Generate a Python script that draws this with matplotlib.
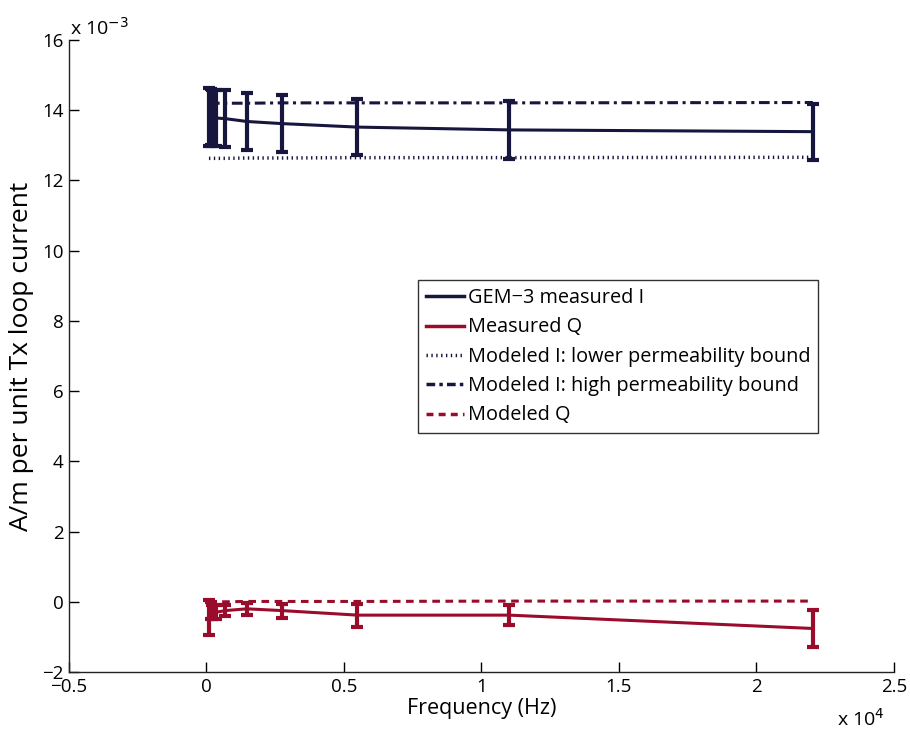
import numpy as np
import matplotlib.pyplot as plt
from matplotlib.lines import Line2D

plt.rcParams['font.family'] = ['Open Sans', 'DejaVu Sans']

# frequencies (Hz)
freq = [90, 150, 210, 330, 690, 1470, 2730, 5490, 11010, 22050]

# measured inphase / quadrature (x 1e-3 A/m per unit Tx current)
meas_I = [13.80, 13.80, 13.79, 13.78, 13.76, 13.68, 13.62, 13.52, 13.44, 13.39]
err_I = [0.83, 0.80, 0.80, 0.80, 0.82, 0.80, 0.80, 0.80, 0.82, 0.80]
meas_Q = [-0.45, -0.25, -0.30, -0.30, -0.25, -0.20, -0.25, -0.38, -0.38, -0.76]
err_Q = [0.50, 0.25, 0.20, 0.20, 0.15, 0.17, 0.20, 0.33, 0.28, 0.53]

# modeled curves
mod_I_low = [12.63, 12.63, 12.63, 12.63, 12.63, 12.64, 12.64, 12.65, 12.65, 12.66]
mod_I_high = [14.20, 14.20, 14.20, 14.20, 14.20, 14.20, 14.21, 14.21, 14.21, 14.22]
mod_Q = [0.00, 0.00, 0.00, 0.00, 0.00, 0.01, 0.01, 0.01, 0.02, 0.02]

labels = ['GEM\u22123 measured I', 'Measured Q', 'Modeled I: lower permeability bound',
          'Modeled I: high permeability bound', 'Modeled Q']

blue = '#16163f'
red = '#9a0c2c'

fig = plt.figure(figsize=(9.1, 7.33), dpi=100)
ax = fig.add_axes([0.0758, 0.0832, 0.9066, 0.8622])

f = np.array(freq)
sc = 1e-3
ax.errorbar(f, np.array(meas_I) * sc, yerr=np.array(err_I) * sc, color=blue, lw=2.2,
            elinewidth=3, capsize=4, capthick=3, zorder=3)
ax.errorbar(f, np.array(meas_Q) * sc, yerr=np.array(err_Q) * sc, color=red, lw=2.2,
            elinewidth=3, capsize=4, capthick=3, zorder=3)
ax.plot(f, np.array(mod_I_low) * sc, color=blue, lw=2.5, dashes=(0.4, 1.0))
ax.plot(f, np.array(mod_I_high) * sc, color=blue, lw=2.2, dashes=(3.5, 1.5, 1.0, 1.5))
ax.plot(f, np.array(mod_Q) * sc, color=red, lw=2.2, dashes=(2.5, 1.8))

ax.set_xlim(-5000, 25000)
ax.set_ylim(-2e-3, 16e-3)
ax.set_xticks([-5000, 0, 5000, 10000, 15000, 20000, 25000])
ax.set_xticklabels(['\u22120.5', '0', '0.5', '1', '1.5', '2', '2.5'])
ax.set_yticks(np.arange(-2, 17, 2) * sc)
ax.set_yticklabels(['\u22122', '0', '2', '4', '6', '8', '10', '12', '14', '16'])
ax.tick_params(direction='in', length=7, width=1, labelsize=13.5, pad=4)
for s in ['top', 'right']:
    ax.spines[s].set_visible(False)
for s in ['left', 'bottom']:
    ax.spines[s].set_linewidth(1)
    ax.spines[s].set_color('#222222')

ax.set_xlabel('Frequency (Hz)', fontsize=15.5, labelpad=2)
ax.set_ylabel('A/m per unit Tx loop current', fontsize=19, labelpad=6)

fig.text(0.077, 0.953, r'x 10$^{-3}$', fontsize=14, ha='left', va='baseline')
fig.text(0.92, 0.01, r'x 10$^{4}$', fontsize=14, ha='left', va='baseline')

handles = [Line2D([], [], color=blue, lw=2.5),
           Line2D([], [], color=red, lw=2.5),
           Line2D([], [], color=blue, lw=2.5, dashes=(0.4, 1.0)),
           Line2D([], [], color=blue, lw=2.5, dashes=(2.5, 1.2, 1.0, 1.2)),
           Line2D([], [], color=red, lw=2.5, dashes=(2.0, 1.5))]
leg = ax.legend(handles, labels, loc='upper left', bbox_to_anchor=(0.423, 0.62),
                borderaxespad=0, fontsize=14.3, handlelength=1.9, handletextpad=0.2,
                labelspacing=0.47, borderpad=0.4, fancybox=False, framealpha=1)
leg.get_frame().set_edgecolor('#333333')
leg.get_frame().set_linewidth(1)

fig.savefig('out.png', dpi=100)
